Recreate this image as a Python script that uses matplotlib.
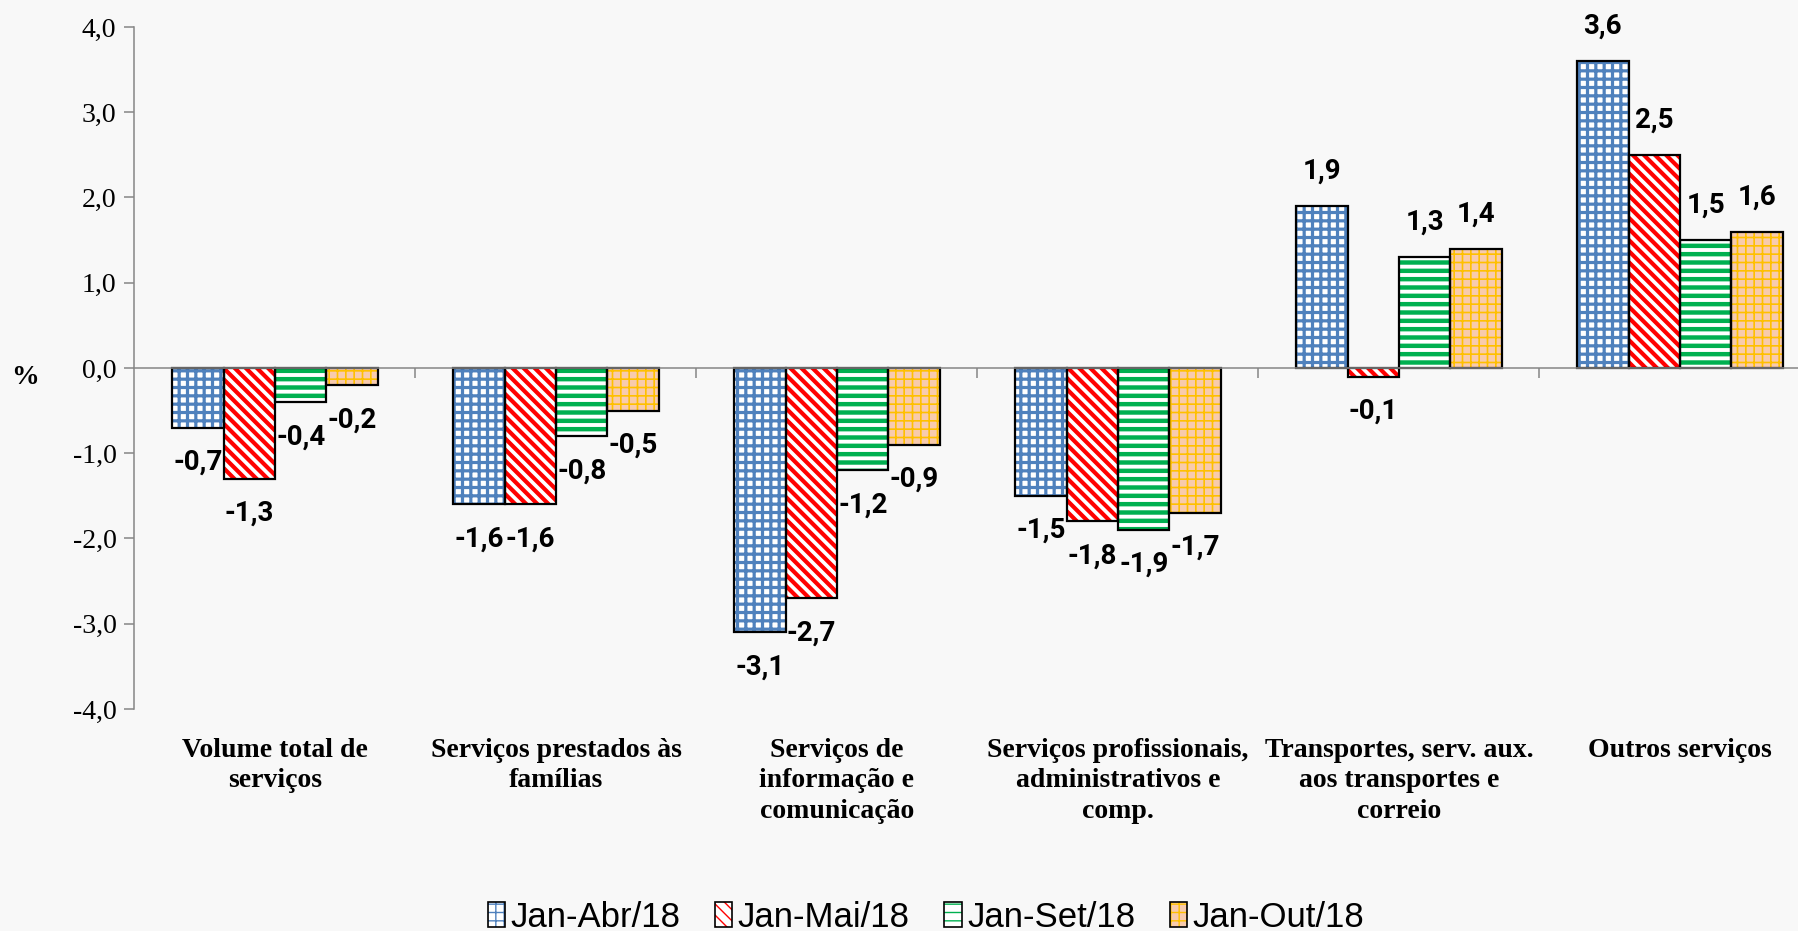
import numpy as np
import matplotlib
matplotlib.use('Agg')
import matplotlib.pyplot as plt
from matplotlib.patches import Patch
from matplotlib.legend_handler import HandlerTuple

categories = ['Volume total de\nserviços',
              'Serviços prestados às\nfamílias',
              'Serviços de\ninformação e\ncomunicação',
              'Serviços profissionais,\nadministrativos e\ncomp.',
              'Transportes, serv. aux.\naos transportes e\ncorreio',
              'Outros serviços']
series_names = ['Jan-Abr/18', 'Jan-Mai/18', 'Jan-Set/18', 'Jan-Out/18']
jan_abr = [-0.7, -1.6, -3.1, -1.5, 1.9, 3.6]
jan_mai = [-1.3, -1.6, -2.7, -1.8, -0.1, 2.5]
jan_set = [-0.4, -0.8, -1.2, -1.9, 1.3, 1.5]
jan_out = [-0.2, -0.5, -0.9, -1.7, 1.4, 1.6]
y_ticks = [-4, -3, -2, -1, 0, 1, 2, 3, 4]

# fill / hatch look of each series
faces = ['white', 'white', 'white', '#F8CBAD']
hatch_colors = ['#4F81BD', '#FF0000', '#00B050', '#FFC000']
hatches = ['++', '\\\\\\', '--', '++']
hatch_widths = [2.3, 3.0, 3.2, 1.2]

bg = '#F8F8F8'
axis_grey = '#868686'

fig = plt.figure(figsize=(17.98, 9.31), dpi=100, facecolor=bg)
ax = fig.add_axes([0.0748, 0.2385, 1 - 0.0748, 0.971 - 0.2385])
ax.set_facecolor(bg)

x = np.arange(len(categories))
bar_w = 0.183
all_series = [jan_abr, jan_mai, jan_set, jan_out]
legend_handles = []

for i, vals in enumerate(all_series):
    xs = x + (i - 1.5) * bar_w
    with plt.rc_context({'hatch.linewidth': hatch_widths[i]}):
        fill = ax.bar(xs, vals, bar_w, color=faces[i], edgecolor=hatch_colors[i],
                      hatch=hatches[i], linewidth=0, zorder=2)
        h1 = Patch(facecolor=faces[i], edgecolor=hatch_colors[i], hatch=hatches[i], linewidth=0)
    for p in list(fill) + [h1]:
        if hasattr(p, 'set_hatch_linewidth'):
            p.set_hatch_linewidth(hatch_widths[i])
    ax.bar(xs, vals, bar_w, color='none', edgecolor='black', linewidth=1.6, zorder=3)

    for xv, v in zip(xs, vals):
        off = 25 if v >= 0 else -25
        ax.annotate(f'{v:.1f}'.replace('.', ','), xy=(xv, v), xytext=(0, off),
                    textcoords='offset points', ha='center', va='center',
                    fontsize=20, fontweight='bold', family=['Roboto', 'DejaVu Sans'])

    h2 = Patch(facecolor='none', edgecolor='black', linewidth=1.2)
    legend_handles.append((h1, h2))

ax.set_xlim(-0.5, 5.42)
ax.set_ylim(-4, 4)
ax.set_yticks(y_ticks)
ax.set_yticklabels([f'{t:.1f}'.replace('.', ',') for t in y_ticks],
                   fontsize=20, family=['Liberation Serif'])

ax.spines['top'].set_visible(False)
ax.spines['right'].set_visible(False)
ax.spines['left'].set_color(axis_grey)
ax.spines['left'].set_linewidth(1.1)
ax.spines['bottom'].set_position(('data', 0))
ax.spines['bottom'].set_color(axis_grey)
ax.spines['bottom'].set_linewidth(1.1)
ax.spines['bottom'].set_zorder(4)

ax.set_xticks(np.arange(0.5, 5.0, 1.0))
ax.set_xticklabels([])
ax.tick_params(axis='x', direction='out', length=7, width=1.1, color=axis_grey)
ax.tick_params(axis='y', direction='out', length=7, width=1.1, color=axis_grey, pad=6)

for xc, name in zip(x, categories):
    ax.text(xc, -0.042, name, transform=ax.get_xaxis_transform(), ha='center', va='top',
            fontsize=20, fontweight='bold', family=['Liberation Serif'], linespacing=1.3)

fig.text(25 / 1798, 1 - 378 / 931, '%', ha='center', va='center',
         fontsize=20, fontweight='bold', family=['Liberation Serif'])

fig.legend(legend_handles, series_names, loc='center', bbox_to_anchor=(0.515, 0.015),
           ncol=4, frameon=False, handler_map={tuple: HandlerTuple(ndivide=1)},
           handlelength=0.5, handleheight=0.7, handletextpad=0.15, columnspacing=1.0,
           borderpad=0, prop={'family': ['Liberation Sans'], 'size': 25})

fig.savefig('out.png', dpi=100, facecolor=bg)
